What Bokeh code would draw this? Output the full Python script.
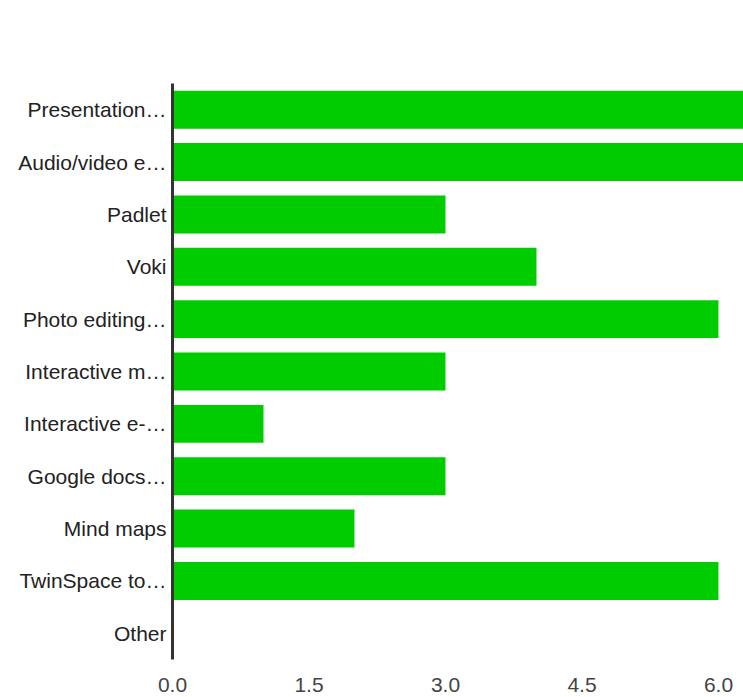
from bokeh.plotting import figure
from bokeh.models import FactorRange, Range1d, FixedTicker, CustomJSTickFormatter
from bokeh.embed import file_html
from bokeh.resources import INLINE

categories = ["Presentation…", "Audio/video e…", "Padlet", "Voki", "Photo editing…",
              "Interactive m…", "Interactive e-…", "Google docs…", "Mind maps",
              "TwinSpace to…", "Other"]
counts = [7, 7, 3, 4, 6, 3, 1, 3, 2, 6, 0]
x_ticks = [0.0, 1.5, 3.0, 4.5, 6.0]

FONT = "Liberation Sans"

p = figure(width=743, height=697, output_backend="svg", toolbar_location=None,
           y_range=FactorRange(factors=list(reversed(categories)), range_padding=0),
           x_range=Range1d(0, 6.275),
           min_border_left=172, min_border_right=0, min_border_top=83, min_border_bottom=38)
p.outline_line_color = None
p.xgrid.visible = False
p.ygrid.visible = False

p.hbar(y=categories, right=counts, left=0, height=0.725, color="#00cc00", line_color=None)

p.xaxis.ticker = FixedTicker(ticks=x_ticks)
p.xaxis.formatter = CustomJSTickFormatter(code="return tick.toFixed(1);")
p.xaxis.axis_line_color = None
p.xaxis.major_tick_line_color = None
p.xaxis.minor_tick_line_color = None
p.xaxis.major_label_text_font = FONT
p.xaxis.major_label_text_font_size = "21px"
p.xaxis.major_label_text_color = "#444444"
p.xaxis.major_label_standoff = 12

p.yaxis.axis_line_color = "#333333"
p.yaxis.axis_line_width = 3
p.yaxis.major_tick_line_color = None
p.yaxis.minor_tick_line_color = None
p.yaxis.major_label_text_font = FONT
p.yaxis.major_label_text_font_size = "21px"
p.yaxis.major_label_text_color = "#222222"
p.yaxis.major_label_standoff = 0

open("out.html", "w").write(file_html(p, INLINE))
